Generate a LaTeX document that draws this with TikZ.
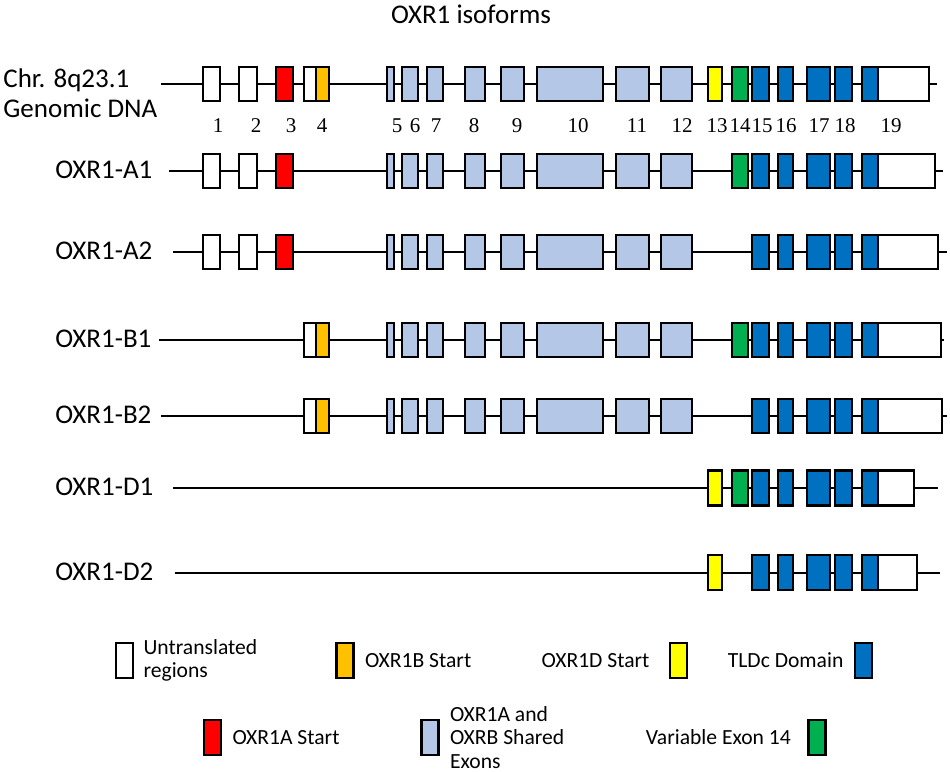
\documentclass[tikz,border=0pt]{standalone}
\usepackage{fontspec}
\setmainfont{Carlito}
\newfontfamily\numfont{Liberation Serif}
\usetikzlibrary{positioning}

\definecolor{utrc}{HTML}{FFFFFF}
\definecolor{astc}{HTML}{FF0000}
\definecolor{bstc}{HTML}{FFC000}
\definecolor{dstc}{HTML}{FFFF00}
\definecolor{shrc}{HTML}{B4C7E7}
\definecolor{varc}{HTML}{00B050}
\definecolor{tldc}{HTML}{0070C0}

\begin{document}
\begin{tikzpicture}[x=0.5pt, y=-0.5pt,
  intron/.style={line width=1pt},
  exon/.style={draw=black, line width=1.2pt},
  rowlabel/.style={anchor=base west, inner sep=0pt, font=\fontsize{13.5}{15.5}\selectfont},
  exnum/.style={anchor=base, inner sep=0pt, font=\numfont\fontsize{10.5}{12}\selectfont},
  legbox/.style={exon, minimum width=8.5pt, minimum height=17.5pt, inner sep=0pt},
  legtext/.style={inner sep=0pt, align=left, font=\fontsize{10.8}{11.5}\selectfont}]

\useasboundingbox (0,0) rectangle (950,772);

% ======================================
% TITLE
% ======================================
\node[anchor=base, inner sep=0pt, font=\fontsize{13.5}{15.5}\selectfont] (title) at (471,23) {OXR1 isoforms};

% ======================================
% GENOMIC DNA
% ======================================
\node[rowlabel] (chr) at (3,87) {Chr. 8q23.1};
\node[rowlabel] (gdna) at (3,117.5) {Genomic DNA};
\coordinate (gs) at (161,84);
\coordinate (ge) at (937,84);
\draw[intron] (gs) -- (ge);
\foreach \a/\b/\c in {203/220/utrc, 239/257/utrc, 276/293/astc, 304/316/utrc, 316/329/bstc,
    387/394/shrc, 402/418/shrc, 427/443/shrc, 465/485/shrc, 501/524/shrc, 537/603/shrc,
    616/649/shrc, 661/692/shrc, 708/722/dstc, 732/748/varc, 752/769/tldc, 778/793/tldc,
    807/830/tldc, 835/852/tldc, 862/878/tldc, 878/929/utrc}
  \draw[exon, fill=\c] (\a,84-17) rectangle (\b,84+17);

\foreach \n/\x in {1/218, 2/256, 3/291, 4/322, 5/397, 6/415, 7/436, 8/474, 9/517, 10/578,
    11/637, 12/682, 13/717, 14/740, 15/762, 16/786, 17/819, 18/845, 19/891}
  \node[exnum] (n\n) at (\x,132) {\n};

% ======================================
% OXR1-A1
% ======================================
\node[rowlabel] (a1) at (55,178.5) {OXR1-A1};
\coordinate (a1s) at (169,171);
\coordinate (a1e) at (943,171);
\draw[intron] (a1s) -- (a1e);
\foreach \a/\b/\c in {203/220/utrc, 239/257/utrc, 276/293/astc,
    387/394/shrc, 402/418/shrc, 427/443/shrc, 465/485/shrc, 501/524/shrc, 537/603/shrc,
    616/649/shrc, 661/692/shrc, 732/748/varc, 752/769/tldc, 778/793/tldc,
    807/830/tldc, 835/852/tldc, 862/878/tldc, 878/935/utrc}
  \draw[exon, fill=\c] (\a,171-17) rectangle (\b,171+17);

% ======================================
% OXR1-A2
% ======================================
\node[rowlabel] (a2) at (55,259.5) {OXR1-A2};
\coordinate (a2s) at (173,252);
\coordinate (a2e) at (947,252);
\draw[intron] (a2s) -- (a2e);
\foreach \a/\b/\c in {203/220/utrc, 239/257/utrc, 276/293/astc,
    387/394/shrc, 402/418/shrc, 427/443/shrc, 465/485/shrc, 501/524/shrc, 537/603/shrc,
    616/649/shrc, 661/692/shrc, 752/769/tldc, 778/793/tldc,
    807/830/tldc, 835/852/tldc, 862/878/tldc, 878/938/utrc}
  \draw[exon, fill=\c] (\a,252-17) rectangle (\b,252+17);

% ======================================
% OXR1-B1
% ======================================
\node[rowlabel] (b1) at (55,347) {OXR1-B1};
\coordinate (b1s) at (159,340);
\coordinate (b1e) at (944,340);
\draw[intron] (b1s) -- (b1e);
\foreach \a/\b/\c in {304/316/utrc, 316/329/bstc,
    387/394/shrc, 402/418/shrc, 427/443/shrc, 465/485/shrc, 501/524/shrc, 537/603/shrc,
    616/649/shrc, 661/692/shrc, 732/748/varc, 752/769/tldc, 778/793/tldc,
    807/830/tldc, 835/852/tldc, 862/878/tldc, 878/941/utrc}
  \draw[exon, fill=\c] (\a,340-17) rectangle (\b,340+17);

% ======================================
% OXR1-B2
% ======================================
\node[rowlabel] (b2) at (55,423.5) {OXR1-B2};
\coordinate (b2s) at (161,416);
\coordinate (b2e) at (947,416);
\draw[intron] (b2s) -- (b2e);
\foreach \a/\b/\c in {304/316/utrc, 316/329/bstc,
    387/394/shrc, 402/418/shrc, 427/443/shrc, 465/485/shrc, 501/524/shrc, 537/603/shrc,
    616/649/shrc, 661/692/shrc, 752/769/tldc, 778/793/tldc,
    807/830/tldc, 835/852/tldc, 862/878/tldc, 878/942/utrc}
  \draw[exon, fill=\c] (\a,416-17) rectangle (\b,416+17);

% ======================================
% OXR1-D1
% ======================================
\node[rowlabel] (d1) at (55,495.5) {OXR1-D1};
\coordinate (d1s) at (173,488);
\coordinate (d1e) at (938,488);
\draw[intron] (d1s) -- (d1e);
\foreach \a/\b/\c in {708/722/dstc, 732/748/varc, 752/769/tldc, 778/793/tldc,
    807/830/tldc, 835/852/tldc, 862/878/tldc, 878/914/utrc}
  \draw[exon, fill=\c] (\a,488-17.5) rectangle (\b,488+17.5);

% ======================================
% OXR1-D2
% ======================================
\node[rowlabel] (d2) at (55,580) {OXR1-D2};
\coordinate (d2s) at (175,572.5);
\coordinate (d2e) at (940,572.5);
\draw[intron] (d2s) -- (d2e);
\foreach \a/\b/\c in {708/722/dstc, 752/769/tldc, 778/793/tldc,
    807/830/tldc, 835/852/tldc, 862/878/tldc, 878/917/utrc}
  \draw[exon, fill=\c] (\a,572.5-17.5) rectangle (\b,572.5+17.5);

% ======================================
% LEGEND
% ======================================
\node[legbox, fill=utrc] (kutr) at (124.5,660.5) {};
\node[legtext, right=4.5pt of kutr] (tutr) {Untranslated\\regions};
\node[legbox, fill=bstc] (kbst) at (345,660.5) {};
\node[legtext, right=5pt of kbst] (tbst) {OXR1B Start};
\node[legbox, fill=dstc] (kdst) at (678.5,660.5) {};
\node[legtext, left=9.5pt of kdst] (tdst) {OXR1D Start};
\node[legbox, fill=tldc] (ktld) at (863.5,660.5) {};
\node[legtext, left=5pt of ktld] (ttld) {TLDc Domain};

\node[legbox, fill=astc] (kast) at (212.5,737.5) {};
\node[legtext, right=5pt of kast] (tast) {OXR1A Start};
\node[legbox, fill=shrc] (kshr) at (430,737.5) {};
\node[legtext, right=5pt of kshr, font=\fontsize{10.8}{11.75}\selectfont] (tshr) {OXR1A and\\OXRB Shared\\Exons};
\node[legbox, fill=varc] (kvar) at (817,737.5) {};
\node[legtext, left=8pt of kvar] (tvar) {Variable Exon 14};

\end{tikzpicture}
\end{document}
